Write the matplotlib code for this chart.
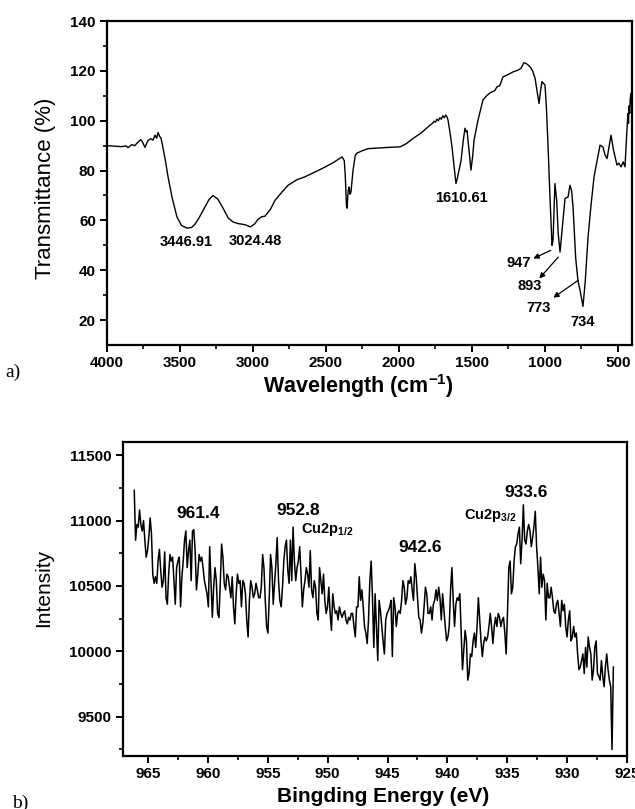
import numpy as np
import matplotlib.pyplot as plt

plt.rcParams["font.family"] = ["Liberation Sans", "DejaVu Sans"]
plt.rcParams["mathtext.fontset"] = "custom"
plt.rcParams["mathtext.rm"] = "Liberation Sans"
plt.rcParams["mathtext.bf"] = "Liberation Sans:bold"
plt.rcParams["mathtext.it"] = "Liberation Sans:italic"

# a) FTIR spectrum
ir_wavenumber = [
    4000, 3950, 3900, 3870, 3856, 3830, 3810, 3788, 3770, 3760,
    3740, 3720, 3700, 3685, 3671, 3660, 3650, 3640, 3630, 3616,
    3600, 3582, 3555, 3521, 3490, 3452, 3420, 3397, 3370, 3342,
    3300, 3274, 3240, 3205, 3170, 3137, 3100, 3075, 3050, 3020,
    2990, 2966, 2940, 2918, 2880, 2849, 2800, 2760, 2700, 2644,
    2580, 2527, 2450, 2390, 2375, 2368, 2360, 2356, 2348, 2342,
    2335, 2329, 2315, 2300, 2288, 2250, 2212, 2150, 2100, 2040,
    1993, 1950, 1904, 1850, 1788, 1770, 1760, 1750, 1740, 1730,
    1720, 1710, 1700, 1690, 1680, 1670, 1664, 1650, 1637, 1620,
    1610, 1600, 1575, 1560, 1548, 1540, 1534, 1520, 1507, 1495,
    1486, 1459, 1425, 1400, 1380, 1363, 1345, 1329, 1310, 1288,
    1250, 1219, 1185, 1165, 1144, 1125, 1103, 1085, 1068, 1055,
    1041, 1030, 1021, 1010, 1000, 990, 979, 965, 952, 945,
    932, 920, 910, 897, 885, 863, 842, 829, 818, 808,
    790, 774, 760, 740, 725, 705, 685, 664, 640, 623,
    603, 590, 575, 560, 548, 530, 507, 495, 479, 465,
    452, 440, 432, 428, 424, 420, 416, 411, 406,
]
ir_transmittance = [
    90.0, 89.8, 89.6, 89.9, 89.2, 90.4, 90.0, 91.4, 92.4, 91.8,
    89.3, 92.0, 92.8, 92.2, 94.2, 93.0, 95.3, 93.8, 93.0, 89.0,
    84.0, 77.5, 69.4, 61.4, 58.0, 56.9, 57.2, 58.5, 61.0, 64.0,
    68.5, 70.0, 68.5, 64.9, 61.0, 59.4, 58.7, 58.5, 58.2, 57.4,
    58.5, 60.4, 61.5, 61.7, 64.5, 68.1, 71.5, 74.1, 76.3, 77.5,
    79.3, 80.8, 83.2, 85.5, 84.0, 78.0, 66.0, 64.9, 72.0, 73.4,
    70.5, 71.4, 80.0, 86.0, 87.0, 88.0, 88.8, 89.0, 89.2, 89.4,
    89.5, 90.8, 92.9, 95.0, 98.2, 99.0, 99.8, 99.4, 100.6, 100.0,
    101.2, 100.6, 102.0, 101.2, 102.3, 101.4, 100.2, 95.0, 89.5, 80.0,
    74.8, 77.0, 84.0, 92.0, 97.0, 95.5, 96.0, 88.0, 80.2, 86.0,
    92.2, 100.2, 108.3, 110.0, 111.0, 111.6, 112.0, 113.6, 114.0, 117.6,
    118.6, 119.6, 120.3, 121.0, 123.3, 122.8, 121.7, 120.0, 117.0, 112.0,
    106.9, 112.0, 115.7, 115.0, 114.3, 105.0, 89.5, 68.0, 50.0, 52.0,
    74.8, 68.0, 55.0, 47.3, 55.0, 68.8, 69.4, 74.1, 72.0, 65.4,
    45.0, 35.7, 32.0, 25.5, 35.0, 53.4, 66.0, 77.5, 85.0, 90.2,
    89.5, 86.5, 84.8, 90.0, 94.2, 88.0, 82.2, 83.0, 81.5, 83.5,
    81.5, 95.0, 102.9, 99.0, 106.0, 103.0, 109.0, 111.0, 105.0,
]
ir_labels = ["3446.91", "3024.48", "1610.61", "947", "893", "773", "734"]
ir_label_x = [3459, 2986, 1573, 1180, 1103, 1043, 742]
ir_label_y = [51.4, 51.6, 68.8, 42.9, 33.6, 24.9, 19.2]
ir_arrow_start = [(961, 48.0), (909, 45.3), (772, 36.0)]
ir_arrow_end = [(1080, 44.7), (1039, 36.7), (943, 29.0)]

# b) Cu2p XPS spectrum
xps_intensity = [
    11230, 10850, 10970, 10950, 11080, 10970, 10920, 11000, 10850, 10720,
    10770, 10870, 11020, 10900, 10590, 10520, 10570, 10520, 10690, 10780,
    10620, 10490, 10540, 10760, 10410, 10360, 10590, 10740, 10690, 10720,
    10540, 10360, 10640, 10690, 10720, 10340, 10570, 10690, 10850, 10920,
    10640, 10770, 10850, 10540, 10920, 10930, 10770, 10470, 10590, 10740,
    10690, 10720, 10640, 10540, 10490, 10440, 10340, 10800, 10520, 10260,
    10490, 10640, 10540, 10290, 10260, 10520, 10820, 10720, 10520, 10470,
    10590, 10570, 10490, 10410, 10570, 10340, 10210, 10440, 10590, 10520,
    10540, 10340, 10540, 10520, 10440, 10240, 10110, 10390, 10540, 10490,
    10410, 10440, 10520, 10470, 10410, 10410, 10490, 10740, 10640, 10390,
    10190, 10140, 10410, 10740, 10640, 10360, 10520, 10670, 10870, 10540,
    10390, 10340, 10490, 10690, 10800, 10850, 10620, 10520, 10850, 10540,
    10950, 10690, 10540, 10640, 10690, 10800, 10590, 10340, 10470, 10540,
    10640, 10590, 10490, 10770, 10470, 10410, 10540, 10490, 10290, 10240,
    10640, 10540, 10440, 10590, 10390, 10290, 10340, 10490, 10290, 10160,
    10440, 10340, 10290, 10310, 10240, 10340, 10290, 10260, 10290, 10310,
    10240, 10210, 10260, 10240, 10290, 10290, 10190, 10110, 10340, 10340,
    10570, 10390, 10470, 10340, 10190, 10140, 10060, 10240, 10540, 10690,
    10410, 10030, 10440, 10190, 9930, 10390, 10310, 10190, 10080, 9980,
    10240, 10290, 10310, 10340, 10390, 9960, 10410, 10340, 10190, 10290,
    10310, 10290, 10390, 10540, 10490, 10360, 10410, 10540, 10520, 10570,
    10470, 10390, 10670, 10570, 10410, 10260, 10240, 10140, 10210, 10340,
    10490, 10440, 10290, 10290, 10340, 10240, 10360, 10390, 10470, 10390,
    10490, 10410, 10240, 10440, 10310, 10190, 10080, 10110, 10190, 10470,
    10640, 10390, 10190, 10360, 10410, 10390, 10440, 10160, 9860, 10010,
    10160, 10080, 9780, 9830, 9980, 9960, 10080, 10140, 10030, 10190,
    10410, 10240, 10080, 9960, 10060, 10110, 10080, 10110, 10190, 10290,
    10190, 10060, 10190, 10260, 10190, 10290, 10260, 10190, 10240, 10260,
    10140, 9980, 10290, 10640, 10690, 10440, 10490, 10690, 10800, 10820,
    10900, 10950, 10670, 10850, 11120, 10850, 10820, 10920, 10970, 10920,
    10800, 10870, 10950, 11070, 10800, 10640, 10440, 10720, 10490, 10590,
    10540, 10240, 10520, 10410, 10410, 10490, 10410, 10310, 10290, 10360,
    10390, 10290, 10190, 10390, 10310, 10360, 10190, 10110, 10240, 10310,
    10080, 10110, 10190, 10110, 10140, 9980, 9860, 9880, 9930, 9980,
    9830, 10030, 9880, 10110, 10030, 9980, 9780, 9860, 10030, 10080,
    9830, 9810, 9780, 9930, 9810, 9730, 9880, 9980, 9860, 9780,
    9730, 9250, 9880,
]
# instrument energy grid, from 966.16 down to 926.14 eV
xps_energy = np.linspace(966.16, 926.14, len(xps_intensity))

xps_labels = ["961.4", "952.8", "942.6", "933.6"]
xps_label_x = [960.86, 952.44, 942.31, 933.44]
xps_label_y = [11053, 11079, 10795, 11213]
xps_sub_labels = [r"$\mathbf{Cu2p_{1/2}}$", r"$\mathbf{Cu2p_{3/2}}$"]
xps_sub_x = [952.2, 938.6]
xps_sub_y = [10934, 11041]


def style_axis(ax):
    for side in ["top", "bottom", "left", "right"]:
        ax.spines[side].set_linewidth(1.6)
    ax.tick_params(which="major", direction="out", length=5, width=1.4,
                   labelsize=11, top=False, right=False, pad=3)
    ax.tick_params(which="minor", direction="out", length=3, width=1.2,
                   top=False, right=False)
    plt.setp(ax.get_xticklabels(), fontweight="bold")
    plt.setp(ax.get_yticklabels(), fontweight="bold")


fig = plt.figure(figsize=(6.35, 8.09), dpi=100)

# --- panel a ---
ax1 = fig.add_axes([0.1685, 0.5735, 0.8268, 0.4005])
ax1.plot(ir_wavenumber, ir_transmittance, color="black", lw=1.0)
ax1.set_xlim(4000, 404)
ax1.set_ylim(10, 140)
ax1.set_xticks([4000, 3500, 3000, 2500, 2000, 1500, 1000, 500])
ax1.set_xticks([3750, 3250, 2750, 2250, 1750, 1250, 750], minor=True)
ax1.set_yticks([20, 40, 60, 80, 100, 120, 140])
ax1.set_yticks([30, 50, 70, 90, 110, 130], minor=True)
style_axis(ax1)

for txt, x, y in zip(ir_labels, ir_label_x, ir_label_y):
    ax1.text(x, y, txt, ha="center", va="center", fontsize=10.5, fontweight="bold")
for (x0, y0), (x1, y1) in zip(ir_arrow_start, ir_arrow_end):
    ax1.annotate("", xy=(x1, y1), xytext=(x0, y0),
                 arrowprops=dict(arrowstyle="-|>", color="black", lw=0.9,
                                 mutation_scale=8, shrinkA=0, shrinkB=0))

# --- panel b ---
ax2 = fig.add_axes([0.1937, 0.0655, 0.7937, 0.3881])
ax2.plot(xps_energy, xps_intensity, color="black", lw=1.1)
ax2.set_xlim(967.1, 925)
ax2.set_ylim(9200, 11600)
ax2.set_xticks([965, 960, 955, 950, 945, 940, 935, 930, 925])
ax2.set_xticks([962.5, 957.5, 952.5, 947.5, 942.5, 937.5, 932.5, 927.5], minor=True)
ax2.set_yticks([9500, 10000, 10500, 11000, 11500])
ax2.set_yticks([9250, 9750, 10250, 10750, 11250], minor=True)
style_axis(ax2)

for txt, x, y in zip(xps_labels, xps_label_x, xps_label_y):
    ax2.text(x, y, txt, ha="center", va="center", fontsize=12.5, fontweight="bold")
for txt, x, y in zip(xps_sub_labels, xps_sub_x, xps_sub_y):
    ax2.text(x, y, txt, ha="left", va="center", fontsize=10.5)

# axis titles and panel letters
fig.text(46 / 635, 1 - 188 / 809, "Transmittance (%)", rotation=90,
         ha="center", va="center", fontsize=16)
fig.text(358 / 635, 1 - 386 / 809, r"Wavelength ($\mathbf{cm^{-1}}$)",
         ha="center", va="center", fontsize=15.5, fontweight="bold")
fig.text(44 / 635, 1 - 588 / 809, "Intensity", rotation=90,
         ha="center", va="center", fontsize=15)
fig.text(383 / 635, 1 - 797 / 809, "Bingding Energy (eV)",
         ha="center", va="center", fontsize=15, fontweight="bold")
fig.text(5 / 635, 1 - 372 / 809, "a)", family="Liberation Serif",
         ha="left", va="center", fontsize=14)
fig.text(12 / 635, 1 - 803 / 809, "b)", family="Liberation Serif",
         ha="left", va="center", fontsize=14)

fig.savefig("out.png", dpi=100)
